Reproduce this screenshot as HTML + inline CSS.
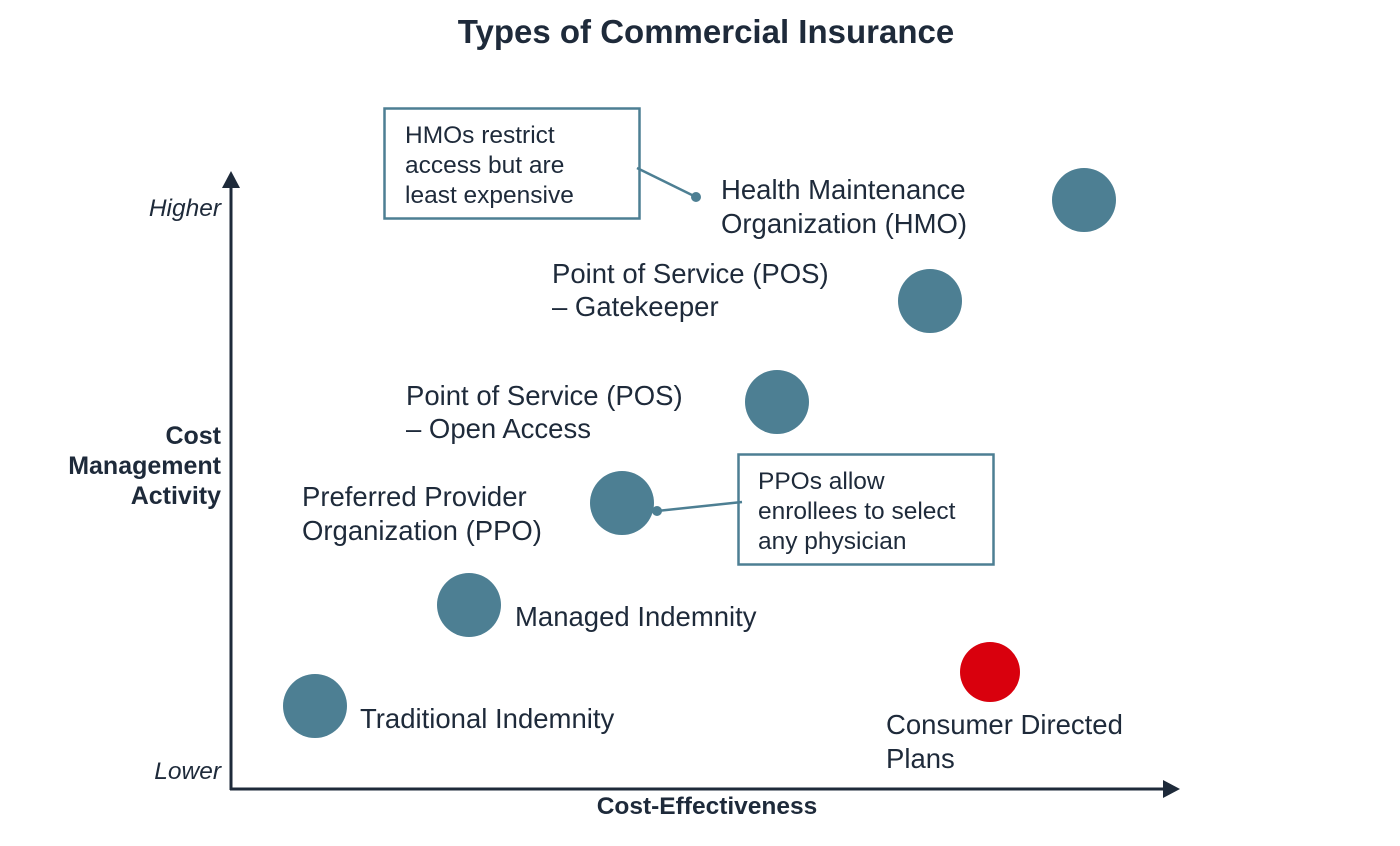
<!DOCTYPE html>
<html><head><style>body{margin:0;background:#fff}</style></head><body>
<svg width="1400" height="841" xmlns="http://www.w3.org/2000/svg" font-family="Liberation Sans, Arial, sans-serif" fill="#1e2a3a">
<text x="706" y="43" text-anchor="middle" font-size="33" font-weight="bold">Types of Commercial Insurance</text>
<line x1="231" y1="184" x2="231" y2="790" stroke="#1e2a3a" stroke-width="3"/>
<polygon points="231,171 222,188 240,188" fill="#1e2a3a"/>
<line x1="230" y1="789" x2="1166" y2="789" stroke="#1e2a3a" stroke-width="3"/>
<polygon points="1180,789 1163,780 1163,798" fill="#1e2a3a"/>
<text x="221" y="216" text-anchor="end" font-size="24.5" font-style="italic">Higher</text>
<text x="221" y="779" text-anchor="end" font-size="24.5" font-style="italic">Lower</text>
<g font-size="25" font-weight="bold" text-anchor="end">
<text x="221" y="444">Cost</text>
<text x="221" y="474">Management</text>
<text x="221" y="504">Activity</text>
</g>
<text x="707" y="814" text-anchor="middle" font-size="24.5" font-weight="bold">Cost-Effectiveness</text>
<g fill="#4d7f93">
<circle cx="1084" cy="200" r="32"/>
<circle cx="930" cy="301" r="32"/>
<circle cx="777" cy="402" r="32"/>
<circle cx="622" cy="503" r="32"/>
<circle cx="469" cy="605" r="32"/>
<circle cx="315" cy="706" r="32"/>
</g>
<circle cx="990" cy="672" r="30" fill="#d9000d"/>
<g font-size="27.5">
<text x="721" y="199">Health Maintenance</text>
<text x="721" y="233">Organization (HMO)</text>
<text x="552" y="283">Point of Service (POS)</text>
<text x="552" y="316">– Gatekeeper</text>
<text x="406" y="405">Point of Service (POS)</text>
<text x="406" y="438">– Open Access</text>
<text x="302" y="506">Preferred Provider</text>
<text x="302" y="540">Organization (PPO)</text>
<text x="515" y="626">Managed Indemnity</text>
<text x="360" y="728">Traditional Indemnity</text>
<text x="886" y="734">Consumer Directed</text>
<text x="886" y="768">Plans</text>
</g>
<rect x="384.5" y="108.5" width="255" height="110" fill="none" stroke="#4d7f93" stroke-width="2.5"/>
<rect x="738.5" y="454.5" width="255" height="110" fill="none" stroke="#4d7f93" stroke-width="2.5"/>
<line x1="637" y1="168" x2="696" y2="197" stroke="#4d7f93" stroke-width="2.5"/>
<circle cx="696" cy="197" r="5" fill="#4d7f93"/>
<line x1="742" y1="502" x2="657" y2="511" stroke="#4d7f93" stroke-width="2.5"/>
<circle cx="657" cy="511" r="5" fill="#4d7f93"/>
<g font-size="24.5">
<text x="405" y="143">HMOs restrict</text>
<text x="405" y="173">access but are</text>
<text x="405" y="203">least expensive</text>
<text x="758" y="489">PPOs allow</text>
<text x="758" y="519">enrollees to select</text>
<text x="758" y="549">any physician</text>
</g>
</svg>
</body></html>
